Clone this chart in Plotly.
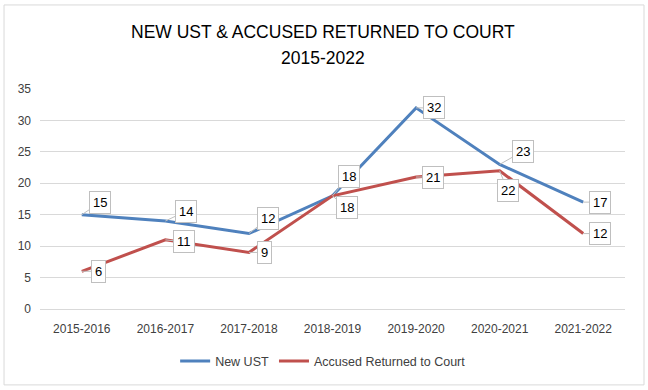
import plotly.graph_objects as go

categories = ["2015-2016", "2016-2017", "2017-2018", "2018-2019", "2019-2020", "2020-2021", "2021-2022"]
new_ust = [15, 14, 12, 18, 32, 23, 17]
accused = [6, 11, 9, 18, 21, 22, 12]

title_line1 = "NEW UST & ACCUSED RETURNED TO COURT"
title_line2 = "2015-2022"

blue_offsets = [(18, -12), (21, -10), (19, -15), (16, -19), (18, 0), (23, -13), (17, 0)]
red_offsets = [(17, 0), (19, 2), (16, 0), (14, 12), (17, 0), (8, 20), (17, 0)]

BLUE = "#4F81BD"
RED = "#C0504D"
FONT = "Liberation Sans, Arial"

fig = go.Figure()
fig.add_trace(go.Scatter(x=categories, y=new_ust, mode="lines", name="New UST",
                         line=dict(color=BLUE, width=3)))
fig.add_trace(go.Scatter(x=categories, y=accused, mode="lines", name="Accused Returned to Court",
                         line=dict(color=RED, width=3)))

annotations = []
for series, offs in ((new_ust, blue_offsets), (accused, red_offsets)):
    for c, v, (ax, ay) in zip(categories, series, offs):
        annotations.append(dict(
            x=c, y=v, text=str(v), showarrow=True, arrowhead=0, arrowwidth=1,
            arrowcolor="#BFBFBF", ax=ax, ay=ay, bgcolor="white", bordercolor="#BFBFBF",
            borderwidth=1, borderpad=3, font=dict(size=13, color="#000000", family=FONT)))

for txt, yy in ((title_line1, 1.259), (title_line2, 1.141)):
    annotations.append(dict(text=txt, xref="paper", yref="paper", x=0.484, y=yy,
                            xanchor="center", yanchor="middle", showarrow=False,
                            font=dict(size=17.5, color="#000000", family=FONT)))

fig.update_layout(
    width=648, height=390,
    margin=dict(l=40, r=23, t=89, b=81),
    paper_bgcolor="white", plot_bgcolor="white",
    showlegend=True,
    legend=dict(orientation="h", x=0.484, xanchor="center", y=-0.17, yanchor="top",
                font=dict(size=12.5, color="#404040", family=FONT)),
    annotations=annotations,
    shapes=[dict(type="rect", xref="paper", yref="paper", x0=-0.0615, x1=1.0325,
                 y0=-0.345, y1=1.382, line=dict(color="#D9D9D9", width=1))],
)
fig.update_xaxes(showgrid=False, showline=True, linecolor="#D9D9D9", ticks="",
                 tickfont=dict(size=12, color="#404040", family=FONT), range=[-0.5, 6.5],
                 ticklabelstandoff=9)
fig.update_yaxes(range=[0, 35], dtick=5, showgrid=True, gridcolor="#D9D9D9", zeroline=False,
                 showline=False, tickfont=dict(size=12, color="#404040", family=FONT), ticks="",
                 ticklabelstandoff=8)
fig.write_html("out.html", config={"displayModeBar": False},
               post_script="document.body.style.margin='0';")
